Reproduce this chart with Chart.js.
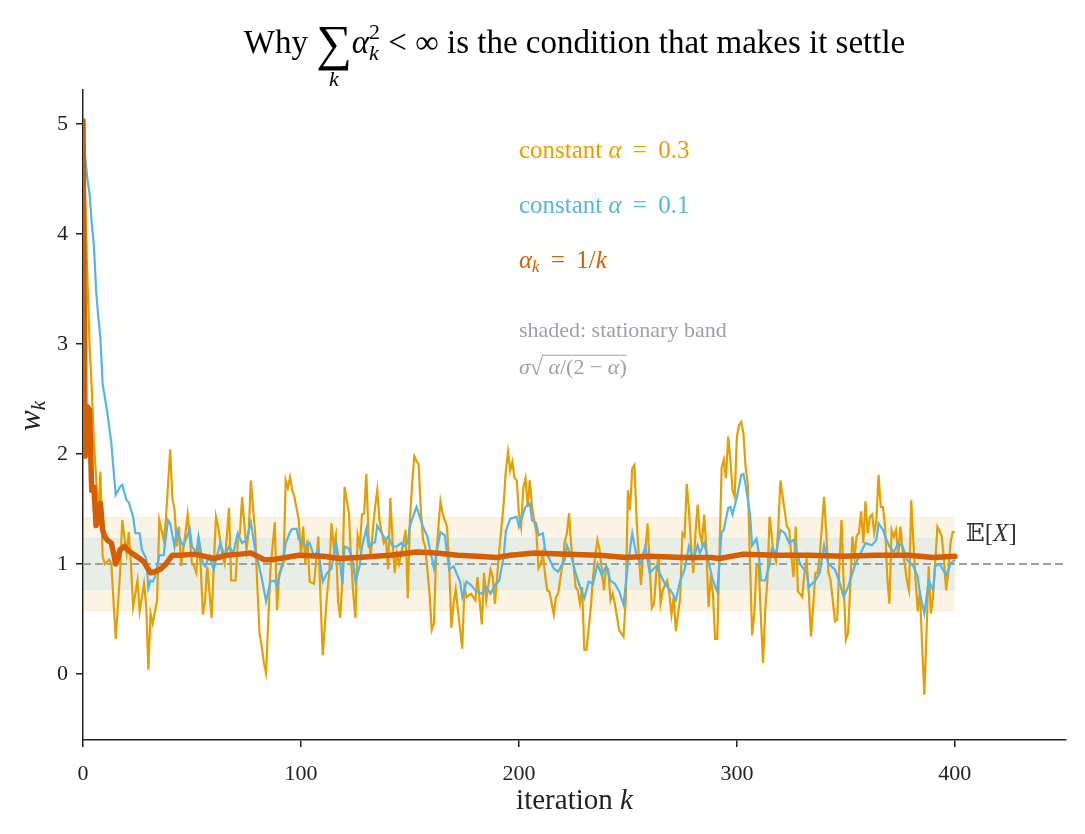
<!DOCTYPE html>
<html>
<head>
<meta charset="utf-8">
<script src="https://cdn.jsdelivr.net/npm/chart.js@4.4.1/dist/chart.umd.min.js"></script>
<style>
  html, body { margin: 0; padding: 0; background: #fff; }
  #wrap { width: 1085px; height: 834px; }
</style>
</head>
<body>
<div id="wrap"><canvas id="chart" width="1085" height="834"></canvas></div>
<script>
// axis ranges and ticks
const xMax = 451, yMin = -0.6, yMax = 5.31;
const xTicks = [0, 100, 200, 300, 400];
const yTicks = [0, 1, 2, 3, 4, 5];

// E[X] and the shaded stationary bands
const meanLevel = 1.0;
const bandSpan = [0, 400];
const band03 = [0.58, 1.42];
const band01 = [0.77, 1.23];

// constant alpha = 0.3, [k, w_k]
const wConst03 = [
  [0,5.0],[1,4.3],[2,3.6],[3,3.0],[4,2.6],[5,2.1],[6,1.8],[7,1.45],[8,1.84],[9,1.07],[10,1.0],[12,1.04],[13,1.0],
  [15,0.32],[17,0.92],[18,1.40],[20,1.10],[21,1.29],[22,1.0],[23,0.61],[25,0.85],[26,0.57],[28,0.82],[29,0.62],
  [30,0.04],[31,0.55],[32,0.46],[34,0.67],[35,1.40],[37,1.22],[38,1.40],[40,2.04],[41,1.60],[42,1.49],[43,1.16],
  [44,1.34],[45,0.98],[47,1.28],[48,1.45],[50,1.0],[51,0.98],[52,0.92],[53,1.25],[54,0.98],[55,0.54],[56,0.67],
  [57,0.98],[59,0.51],[61,1.43],[62,1.34],[64,1.07],[65,1.0],[67,1.51],[68,0.85],[70,0.85],[71,1.19],[72,1.28],
  [73,1.61],[75,1.13],[76,1.28],[77,1.76],[79,1.28],[80,0.79],[81,0.37],[82,0.25],[83,0.10],[84,0.01],[85,0.49],
  [86,0.95],[88,1.38],[89,0.58],[90,0.91],[92,1.0],[93,1.76],[94,1.69],[95,1.79],[96,1.67],[97,1.61],[99,1.40],
  [100,1.07],[101,1.34],[102,1.0],[103,1.22],[104,0.84],[106,0.82],[107,1.04],[108,1.25],[109,0.67],[110,0.17],
  [112,0.73],[113,0.92],[114,1.37],[115,1.16],[116,1.26],[117,0.67],[118,0.51],[119,0.85],[120,1.70],[122,1.46],
  [123,1.04],[124,0.73],[125,0.51],[126,1.26],[127,1.16],[128,1.45],[129,1.46],[130,1.82],[131,1.25],[132,1.07],
  [133,1.31],[134,1.52],[135,1.67],[136,1.40],[138,1.19],[139,1.22],[140,0.95],[141,1.60],[142,1.22],[143,0.92],
  [144,1.10],[145,1.0],[147,1.19],[148,1.31],[149,0.69],[150,1.40],[151,1.73],[152,1.98],[154,1.90],[155,1.49],
  [156,1.22],[157,1.16],[159,0.73],[160,0.40],[161,0.46],[162,1.07],[164,1.57],[165,1.46],[167,1.34],[168,1.0],
  [169,0.42],[170,0.64],[171,0.77],[172,0.58],[174,0.23],[175,0.79],[176,0.70],[178,0.73],[180,0.67],[181,0.88],
  [183,0.45],[184,0.92],[185,0.67],[187,0.95],[188,0.88],[189,0.64],[191,1.13],[193,1.55],[194,1.85],[195,2.02],
  [196,1.85],[197,1.93],[198,1.78],[199,1.76],[200,1.46],[201,1.34],[202,1.69],[203,1.78],[204,1.52],[205,1.76],
  [206,1.52],[208,1.28],[209,0.96],[210,1.0],[211,1.10],[212,0.90],[213,0.76],[214,0.75],[216,0.54],[217,0.70],
  [218,0.73],[220,1.0],[221,1.20],[222,1.28],[223,1.46],[224,1.16],[225,1.0],[226,0.79],[227,0.76],[228,0.64],
  [229,0.79],[230,0.22],[231,0.22],[233,0.61],[234,0.88],[235,1.07],[236,1.22],[237,1.13],[238,0.95],[239,0.76],
  [240,0.98],[241,0.95],[242,0.67],[243,0.73],[244,0.64],[246,0.40],[247,0.37],[248,0.34],[249,0.67],[250,1.67],
  [251,1.49],[252,1.87],[253,1.90],[254,1.40],[255,1.07],[256,0.81],[257,1.10],[258,1.13],[259,1.37],[260,0.98],
  [261,0.60],[262,0.64],[263,0.92],[264,1.07],[265,0.64],[266,0.76],[268,0.85],[269,0.73],[270,0.54],[271,0.70],
  [272,0.39],[273,0.55],[274,0.70],[275,1.28],[276,1.25],[277,1.73],[278,1.49],[279,1.16],[280,0.92],[281,1.28],
  [282,1.54],[283,1.28],[284,1.19],[285,1.45],[286,1.13],[287,0.61],[288,0.88],[289,0.73],[290,0.32],[291,0.32],
  [293,1.87],[294,1.95],[295,1.78],[296,2.16],[297,1.95],[298,1.67],[299,1.61],[300,2.16],[301,2.26],[302,2.29],
  [303,2.19],[304,1.88],[305,1.73],[306,1.04],[307,0.35],[308,0.55],[309,0.98],[310,1.0],[311,0.52],[312,0.10],
  [313,0.58],[314,0.85],[315,1.43],[317,1.07],[318,1.02],[319,1.34],[320,1.76],[321,1.61],[323,1.34],[324,1.31],
  [325,1.07],[326,0.88],[327,1.34],[328,0.75],[329,0.73],[330,0.70],[331,0.92],[332,1.04],[333,0.73],[334,0.34],
  [335,0.61],[336,0.92],[337,0.92],[338,1.07],[339,1.34],[340,1.61],[341,1.28],[342,0.92],[343,0.85],[344,0.67],
  [345,0.48],[346,0.49],[347,0.98],[348,1.40],[349,0.82],[350,0.31],[351,0.37],[352,0.79],[353,1.25],[354,1.07],
  [355,1.26],[356,1.28],[357,1.48],[358,1.19],[359,1.57],[360,1.28],[361,1.43],[362,1.45],[363,1.28],[364,1.40],
  [365,1.81],[366,1.52],[367,1.52],[368,1.34],[369,0.88],[370,0.64],[371,1.31],[372,1.25],[373,1.31],[374,1.07],
  [375,1.34],[376,1.13],[377,1.0],[378,0.85],[379,0.76],[380,1.58],[381,1.19],[382,0.85],[383,0.57],[384,0.76],
  [385,0.25],[386,-0.19],[387,0.37],[388,0.98],[389,0.55],[390,0.70],[392,1.34],[393,1.30],[394,1.25],[395,1.04],
  [396,0.76],[397,0.92],[398,1.19],[399,1.29],[400,1.29]
];

// constant alpha = 0.1, [k, w_k]
const wConst01 = [
  [0,5.0],[1,4.7],[2,4.5],[3,4.37],[4,4.1],[5,3.9],[6,3.49],[7,3.25],[8,3.05],[9,2.64],[11,2.40],[13,2.10],
  [15,1.63],[17,1.70],[18,1.72],[20,1.58],[21,1.56],[23,1.43],[24,1.28],[26,1.28],[27,1.13],[29,1.05],[30,0.78],
  [31,0.85],[32,0.84],[33,0.88],[35,1.08],[37,1.08],[39,1.40],[40,1.37],[42,1.16],[43,1.31],[44,1.25],[46,1.16],
  [49,1.32],[50,1.16],[52,1.10],[53,1.25],[55,1.0],[56,0.98],[58,1.07],[60,0.95],[61,1.04],[63,1.19],[65,1.07],
  [67,1.16],[69,1.10],[71,1.28],[73,1.19],[75,1.22],[77,1.38],[79,1.13],[80,1.05],[82,0.87],[84,0.66],[86,0.84],
  [88,0.85],[89,0.79],[91,0.97],[92,1.05],[93,1.19],[95,1.29],[96,1.32],[98,1.32],[99,1.22],[101,1.20],[102,1.16],
  [104,1.19],[106,1.07],[108,1.13],[110,0.84],[112,0.92],[114,0.96],[116,1.19],[118,1.0],[119,0.82],[120,1.16],
  [122,1.14],[124,1.0],[125,0.84],[127,0.99],[128,1.16],[130,1.32],[131,1.16],[134,1.20],[135,1.35],[137,1.28],
  [139,1.22],[140,1.25],[142,1.16],[144,1.16],[146,1.19],[147,1.16],[149,1.19],[150,1.35],[153,1.52],[155,1.40],
  [156,1.34],[158,1.25],[161,0.96],[163,1.19],[164,1.29],[166,1.26],[168,0.95],[170,0.98],[173,0.84],[174,0.70],
  [176,0.84],[178,0.81],[180,0.76],[183,0.73],[185,0.79],[187,0.73],[189,0.81],[191,0.85],[193,1.07],[194,1.30],
  [196,1.41],[199,1.43],[200,1.34],[203,1.52],[205,1.55],[206,1.40],[208,1.37],[209,1.26],[211,1.28],[212,1.13],
  [216,0.96],[218,0.93],[221,1.04],[222,1.17],[224,1.07],[226,0.92],[228,0.79],[230,0.69],[232,0.84],[234,0.82],
  [236,1.0],[238,0.90],[240,0.98],[242,0.85],[244,0.82],[246,0.75],[248,0.63],[250,1.0],[252,1.28],[254,1.07],
  [256,1.0],[258,1.16],[260,0.92],[263,0.98],[265,0.90],[267,0.82],[270,0.75],[272,0.67],[274,0.85],[276,0.95],
  [278,1.16],[280,1.04],[282,1.17],[283,1.10],[285,1.19],[289,0.85],[291,0.75],[293,1.29],[294,1.31],[296,1.51],
  [297,1.52],[298,1.45],[300,1.61],[302,1.81],[303,1.82],[304,1.72],[306,1.46],[307,1.17],[309,1.23],[310,1.11],
  [311,0.85],[313,0.85],[315,0.99],[316,1.14],[318,1.10],[320,1.31],[322,1.28],[324,1.19],[326,1.22],[328,1.07],
  [329,1.0],[332,0.92],[333,0.79],[336,0.85],[338,0.92],[340,1.17],[342,1.0],[345,0.95],[347,0.84],[349,0.70],
  [351,0.79],[354,0.98],[357,1.11],[359,1.19],[362,1.17],[364,1.22],[365,1.37],[367,1.31],[368,1.25],[370,1.16],
  [372,1.11],[374,1.19],[376,1.16],[378,1.04],[381,0.98],[383,0.88],[384,0.73],[386,0.55],[388,0.85],[390,0.76],
  [391,0.98],[393,1.0],[396,0.90],[398,1.0],[400,1.04]
];

// alpha_k = 1/k, [k, w_k]
const wHarmonic = [
  [0,5.03],[1,1.98],[2,2.43],[3,2.40],[4,1.67],[5,1.70],[6,1.35],[7,1.40],[8,1.55],[9,1.31],[10,1.25],[11,1.22],
  [13,1.19],[14,1.10],[15,1.0],[16,1.05],[17,1.13],[19,1.16],[21,1.12],[23,1.09],[26,1.05],[28,1.02],[30,0.95],
  [31,0.92],[33,0.93],[36,0.96],[38,1.0],[41,1.08],[45,1.08],[51,1.09],[56,1.07],[60,1.05],[66,1.08],[72,1.09],
  [77,1.10],[80,1.07],[83,1.04],[87,1.04],[93,1.06],[99,1.08],[110,1.07],[118,1.05],[126,1.06],[141,1.08],
  [153,1.11],[162,1.10],[172,1.08],[181,1.07],[190,1.06],[196,1.08],[207,1.10],[222,1.09],[237,1.08],[249,1.06],
  [260,1.07],[275,1.06],[288,1.06],[292,1.05],[303,1.09],[318,1.08],[333,1.08],[349,1.07],[364,1.08],[379,1.08],
  [390,1.06],[400,1.07]
];

const ORANGE = '#E69F00', BLUE = '#56B4E9', VERM = '#D55E00', GREY = '#9aa1ab', INK = '#222';
const SERIF = "'Liberation Serif', 'DejaVu Serif', 'DejaVu Sans', serif";

function pts(arr) { return arr.map(p => ({ x: p[0], y: p[1] })); }
function flat(v, span) { return span.map(k => ({ x: k, y: v })); }
function fnt(size, italic) { return (italic ? 'italic ' : '') + size + 'px ' + SERIF; }

// runs: {t, s, i, dy, dx, adv0}
function runsWidth(ctx, runs) {
  let w = 0;
  runs.forEach(r => { ctx.font = fnt(r.s, r.i); if (!r.adv0) w += ctx.measureText(r.t).width; });
  return w;
}
function drawRuns(ctx, runs, x, y, align, color) {
  const w = runsWidth(ctx, runs);
  let cx = align === 'center' ? x - w / 2 : x;
  const start = cx;
  ctx.textAlign = 'left';
  runs.forEach(r => {
    ctx.font = fnt(r.s, r.i);
    ctx.fillStyle = r.c || color;
    ctx.fillText(r.t, cx + (r.dx || 0), y + (r.dy || 0));
    if (!r.adv0) cx += ctx.measureText(r.t).width;
  });
  return { start: start, end: cx };
}

const textPlugin = {
  id: 'texts',
  afterDraw(chart) {
    const ctx = chart.ctx, xs = chart.scales.x, ys = chart.scales.y, ca = chart.chartArea;
    const midX = (ca.left + ca.right) / 2;
    ctx.save();

    // title
    ctx.textBaseline = 'alphabetic';
    const T = 33;
    ctx.font = fnt(50, false);
    const sumW = ctx.measureText('\u2211').width;
    ctx.font = fnt(22, true);
    const kW = ctx.measureText('k').width;
    drawRuns(ctx, [
      { t: 'Why ', s: T },
      { t: 'k', s: 22, i: true, dy: 33, dx: (sumW - kW) / 2, adv0: true },
      { t: '\u2211', s: 50, dy: 7 },
      { t: '\u03b1', s: T, i: true },
      { t: 'k', s: 22, i: true, dy: 7, adv0: true },
      { t: '2', s: 22, dy: -14 },
      { t: ' < \u221e ', s: T },
      { t: 'is the condition that makes it settle', s: T }
    ], midX, 53, 'center', '#000');

    // axis labels
    drawRuns(ctx, [{ t: 'iteration ', s: 29 }, { t: 'k', s: 29, i: true }], midX, 809, 'center', INK);
    ctx.save();
    ctx.translate(32, 416);
    ctx.rotate(-Math.PI / 2);
    ctx.textBaseline = 'middle';
    drawRuns(ctx, [{ t: 'w', s: 31, i: true }, { t: 'k', s: 21, i: true, dy: 7 }], 0, 0, 'center', INK);
    ctx.restore();

    // in-plot legend
    ctx.textBaseline = 'middle';
    const lx = xs.getPixelForValue(200);
    const eq = ' \u2009=\u2009 ';
    drawRuns(ctx, [{ t: 'constant ', s: 25 }, { t: '\u03b1', s: 25, i: true }, { t: eq + '0.3', s: 25 }],
      lx, ys.getPixelForValue(4.75), 'left', ORANGE);
    drawRuns(ctx, [{ t: 'constant ', s: 25 }, { t: '\u03b1', s: 25, i: true }, { t: eq + '0.1', s: 25 }],
      lx, ys.getPixelForValue(4.25), 'left', BLUE);
    drawRuns(ctx, [{ t: '\u03b1', s: 25, i: true }, { t: 'k', s: 17, i: true, dy: 6 }, { t: eq + '1/', s: 25 },
      { t: 'k', s: 25, i: true }], lx, ys.getPixelForValue(3.75), 'left', VERM);

    drawRuns(ctx, [{ t: 'shaded: stationary band', s: 22 }], lx, ys.getPixelForValue(3.12), 'left', GREY);
    const sy = ys.getPixelForValue(2.78);
    const head = drawRuns(ctx, [{ t: '\u03c3', s: 22, i: true }, { t: '\u221a', s: 24 }], lx, sy, 'left', GREY);
    const body = drawRuns(ctx, [{ t: ' \u03b1', s: 22, i: true }, { t: '/(2 \u2212 ', s: 22 },
      { t: '\u03b1', s: 22, i: true }, { t: ')', s: 22 }], head.end, sy, 'left', GREY);
    ctx.strokeStyle = GREY;
    ctx.lineWidth = 1.2;
    ctx.beginPath();
    ctx.moveTo(head.end - 1, sy - 13);
    ctx.lineTo(body.end, sy - 13);
    ctx.stroke();

    // E[X]
    drawRuns(ctx, [{ t: '\ud835\udd3c', s: 25 }, { t: '[', s: 25 }, { t: 'X', s: 25, i: true }, { t: ']', s: 25 }],
      xs.getPixelForValue(405), ys.getPixelForValue(1.27), 'left', '#333');

    ctx.restore();
  }
};

const axisStyle = {
  grid: { display: true, drawOnChartArea: false, drawTicks: true, tickLength: 7, color: INK, lineWidth: 1.5 },
  border: { display: true, color: INK, width: 1.5 }
};

new Chart(document.getElementById('chart'), {
  type: 'line',
  data: {
    datasets: [
      { label: 'alpha_k = 1/k', data: pts(wHarmonic), borderColor: VERM, borderWidth: 5.5, order: 0,
        borderJoinStyle: 'round', borderCapStyle: 'round' },
      { label: 'constant alpha = 0.1', data: pts(wConst01), borderColor: BLUE, borderWidth: 2.2, order: 1 },
      { label: 'constant alpha = 0.3', data: pts(wConst03), borderColor: ORANGE, borderWidth: 2.2, order: 2 },
      { label: 'E[X]', data: flat(meanLevel, [0, xMax]), borderColor: GREY, borderWidth: 2, borderDash: [8, 4], order: 3 },
      { label: 'band 0.1 lo', data: flat(band01[0], bandSpan), borderColor: 'rgba(86,180,233,0.18)', borderWidth: 1, order: 4 },
      { label: 'band 0.1 hi', data: flat(band01[1], bandSpan), borderColor: 'rgba(86,180,233,0.18)', borderWidth: 1,
        fill: '-1', backgroundColor: 'rgba(86,180,233,0.12)', order: 4 },
      { label: 'band 0.3 lo', data: flat(band03[0], bandSpan), borderColor: 'rgba(230,159,0,0.16)', borderWidth: 1, order: 5 },
      { label: 'band 0.3 hi', data: flat(band03[1], bandSpan), borderColor: 'rgba(230,159,0,0.16)', borderWidth: 1,
        fill: '-1', backgroundColor: 'rgba(230,159,0,0.10)', order: 5 }
    ]
  },
  options: {
    responsive: false,
    animation: false,
    devicePixelRatio: 1,
    layout: { padding: { top: 90, right: 19, left: 0, bottom: 0 } },
    elements: { point: { radius: 0 }, line: { tension: 0 } },
    plugins: { legend: { display: false }, tooltip: { enabled: false } },
    scales: {
      x: Object.assign({
        type: 'linear', min: 0, max: xMax,
        ticks: { font: { family: SERIF, size: 22 }, color: INK, padding: 14, maxRotation: 0 },
        afterBuildTicks: s => { s.ticks = xTicks.map(v => ({ value: v })); },
        afterFit: s => { s.height = 94; }
      }, axisStyle),
      y: Object.assign({
        type: 'linear', min: yMin, max: yMax,
        ticks: { font: { family: SERIF, size: 22 }, color: INK, padding: 8 },
        afterBuildTicks: s => { s.ticks = yTicks.map(v => ({ value: v })); },
        afterFit: s => { s.width = 83; }
      }, axisStyle)
    }
  },
  plugins: [textPlugin]
});
</script>
</body>
</html>
